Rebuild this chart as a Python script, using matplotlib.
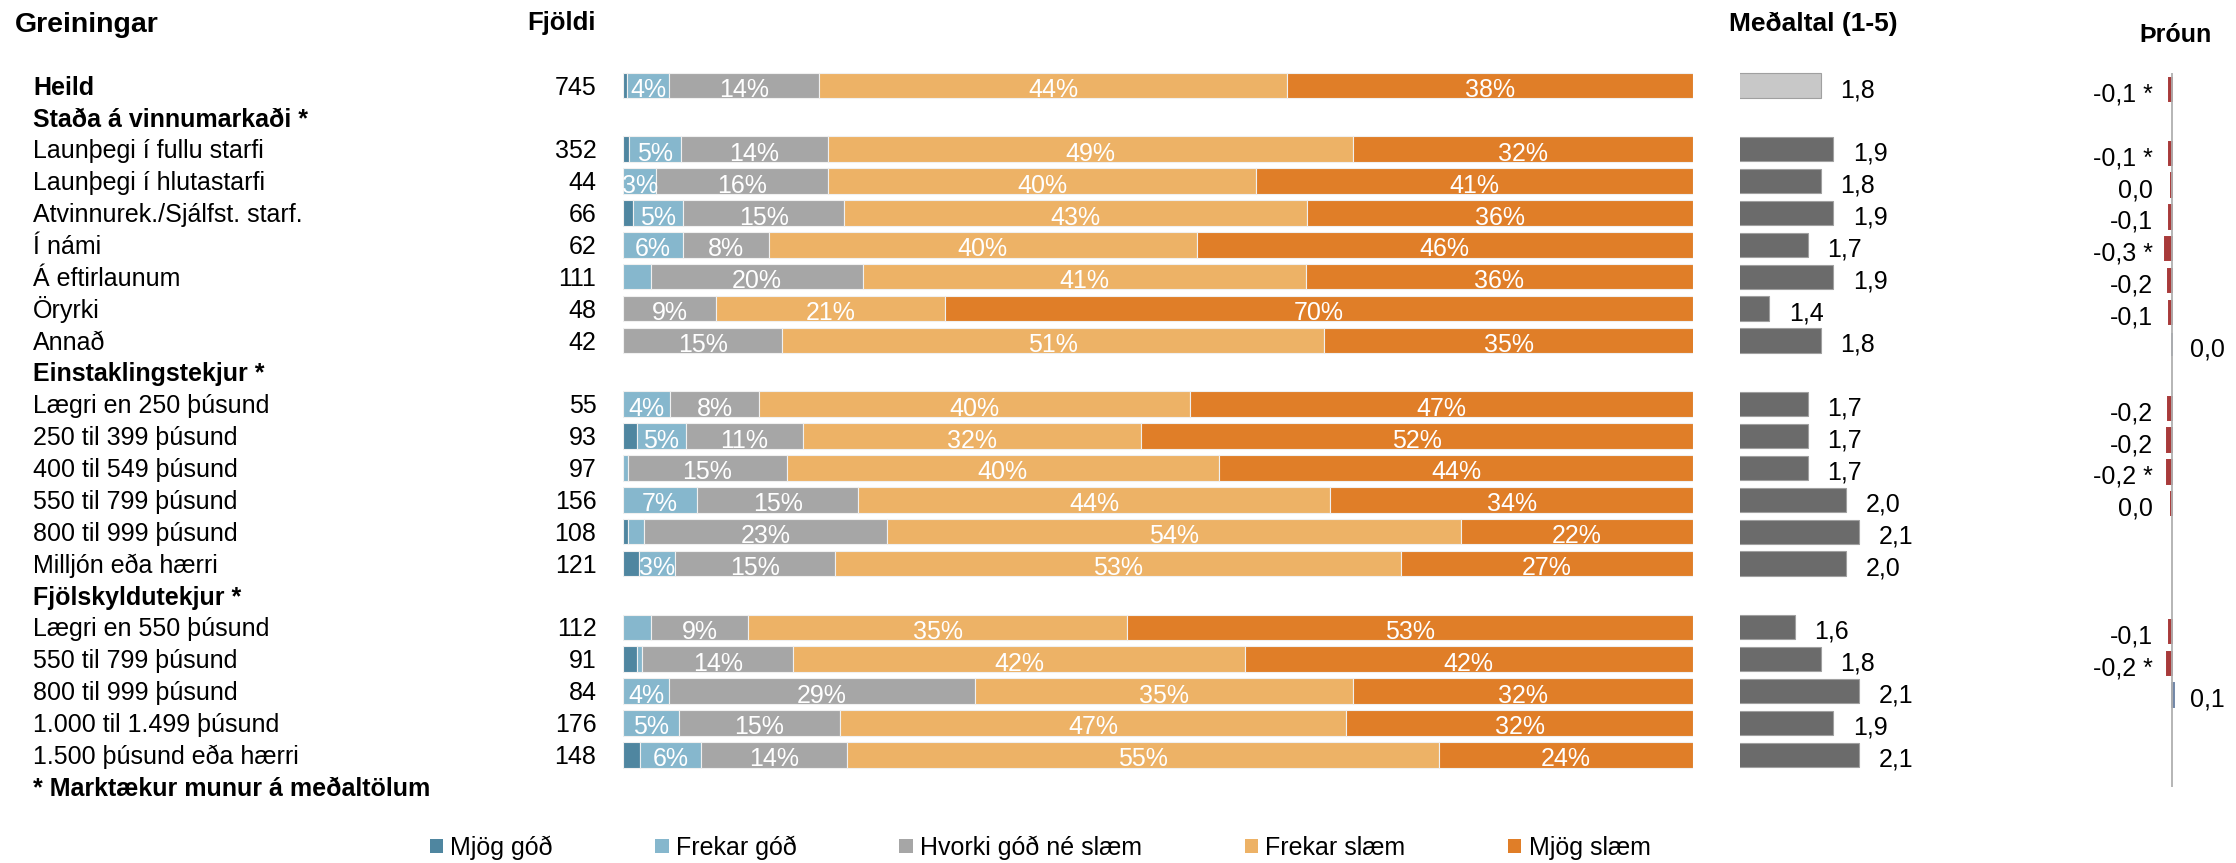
import numpy as np
import matplotlib.pyplot as plt
from matplotlib.patches import Patch

plt.rcParams['font.family'] = ['Liberation Sans', 'DejaVu Sans']

# --- data -------------------------------------------------------------
labels = ["Heild", "Staða á vinnumarkaði *", "Launþegi í fullu starfi",
          "Launþegi í hlutastarfi", "Atvinnurek./Sjálfst. starf.", "Í námi",
          "Á eftirlaunum", "Öryrki", "Annað", "Einstaklingstekjur *",
          "Lægri en 250 þúsund", "250 til 399 þúsund", "400 til 549 þúsund",
          "550 til 799 þúsund", "800 til 999 þúsund", "Milljón eða hærri",
          "Fjölskyldutekjur *", "Lægri en 550 þúsund", "550 til 799 þúsund",
          "800 til 999 þúsund", "1.000 til 1.499 þúsund", "1.500 þúsund eða hærri"]
bold_rows = ["Heild", "Staða á vinnumarkaði *", "Einstaklingstekjur *", "Fjölskyldutekjur *"]

fjoldi = [745, None, 352, 44, 66, 62, 111, 48, 42, None, 55, 93, 97, 156, 108, 121,
          None, 112, 91, 84, 176, 148]

nan = np.nan
mjog_god = [0.4, nan, 0.6, 0, 0.9, 0, 0, 0, 0, nan, 0, 1.3, 0, 0, 0.5, 1.5,
            nan, 0, 1.3, 0, 0, 1.6]
frekar_god = [3.9, nan, 4.8, 3.1, 4.7, 5.6, 2.6, 0, 0, nan, 4.4, 4.6, 0.5, 6.9, 1.5, 3.4,
              nan, 2.6, 0.5, 4.3, 5.2, 5.7]
hvorki = [14.0, nan, 13.8, 16.1, 15.1, 8.0, 19.8, 8.7, 14.9, nan, 8.3, 10.9, 14.8, 15.1, 22.7, 14.9,
          nan, 9.1, 14.1, 28.6, 15.1, 13.6]
frekar_slaem = [43.8, nan, 49.0, 40.0, 43.2, 40.0, 41.4, 21.4, 50.6, nan, 40.3, 31.6, 40.4, 44.1, 53.6, 52.9,
                nan, 35.4, 42.2, 35.3, 47.3, 55.4]
mjog_slaem = [37.9, nan, 31.8, 40.8, 36.1, 46.4, 36.2, 69.9, 34.6, nan, 47.0, 51.6, 44.3, 33.9, 21.7, 27.3,
              nan, 52.9, 41.9, 31.8, 32.4, 23.7]

series = ["Mjög góð", "Frekar góð", "Hvorki góð né slæm", "Frekar slæm", "Mjög slæm"]
colors = ["#4f86a0", "#86b7cd", "#a6a6a6", "#edb266", "#e07e28"]

medaltal = [1.8, nan, 1.9, 1.8, 1.9, 1.7, 1.9, 1.4, 1.8, nan, 1.7, 1.7, 1.7, 2.0, 2.1, 2.0,
            nan, 1.6, 1.8, 2.1, 1.9, 2.1]
throun = [-0.1, nan, -0.1, -0.04, -0.1, -0.3, -0.16, -0.1, 0.04, nan, -0.16, -0.2, -0.2, -0.04,
          nan, nan, nan, -0.1, -0.2, 0.1, nan, nan]
marktaekt = [True, False, True, False, False, True, False, False, False, False, False, False,
             True, False, False, False, False, False, True, False, False, False]

# --- layout -----------------------------------------------------------
W, H = 2236, 863
fig = plt.figure(figsize=(W / 100, H / 100), dpi=100)

row0, pitch = 85.5, 31.87
nrows = len(labels)
y = np.arange(nrows)
has = [f is not None for f in fjoldi]
yi = y[has]

def fy(px):
    return 1 - px / H

ax = fig.add_axes([623 / W, fy(row0 + pitch * 21.5), 1070 / W, pitch * 22 / H])
ax.set_xlim(0, 100)
ax.set_ylim(21.5, -0.5)
ax.axis('off')

data = np.array([mjog_god, frekar_god, hvorki, frekar_slaem, mjog_slaem], dtype=float)
left = np.zeros(nrows)
for k in range(5):
    vals = data[k]
    ax.barh(yi, vals[has], left=left[has], height=0.8, color=colors[k],
            edgecolor='#f0f0f0', linewidth=0.8)
    for i in yi:
        v = vals[i]
        if v >= 2.95:
            ax.annotate(f"{v:.0f}%", (left[i] + v / 2, i), xytext=(0, -8.3),
                        textcoords='offset points', ha='center', va='baseline',
                        color='white', fontsize=18)
    left = left + np.nan_to_num(vals)

# row labels and counts
for i in y:
    w = 'bold' if labels[i] in bold_rows else 'normal'
    ax.annotate(labels[i], (33 / W, i), xycoords=('figure fraction', 'data'),
                xytext=(0, -6.6), textcoords='offset points', ha='left', va='baseline',
                fontsize=18, fontweight=w, annotation_clip=False)
    if fjoldi[i] is not None:
        ax.annotate(str(fjoldi[i]), (596.5 / W, i), xycoords=('figure fraction', 'data'),
                    xytext=(0, -6.6), textcoords='offset points', ha='right', va='baseline',
                    fontsize=18, annotation_clip=False)
ax.annotate("* Marktækur munur á meðaltölum", (33 / W, 22), xycoords=('figure fraction', 'data'),
            xytext=(0, -6.6), textcoords='offset points', ha='left', va='baseline',
            fontsize=18, fontweight='bold', annotation_clip=False)

# mean panel
ax2 = fig.add_axes([1740 / W, fy(row0 + pitch * 21.5), 300 / W, pitch * 22 / H])
ax2.set_xlim(1.17, 1.17 + 300 / 128)
ax2.set_ylim(21.5, -0.5)
ax2.axis('off')
m = np.array(medaltal, dtype=float)
mcol = ['#c8c8c8' if i == 0 else '#6b6b6b' for i in yi]
ax2.barh(yi, m[has], height=0.76, color=mcol, edgecolor='#a0a0a0', linewidth=0.8)
for i in yi:
    ax2.annotate(f"{m[i]:.1f}".replace('.', ','), (m[i], i), xytext=(14, -8.3),
                 textcoords='offset points', ha='left', va='baseline', fontsize=18)

# trend panel
t_top, t_bot = 72.7, 786.5
trow0 = row0 + 4
ax3 = fig.add_axes([2040 / W, fy(t_bot), 196 / W, (t_bot - t_top) / H])
ax3.set_xlim(-131.5 / 23, 64.5 / 23)
ax3.set_ylim((t_bot - trow0) / pitch, (t_top - trow0) / pitch)
ax3.axis('off')
ax3.axvline(0, color='#b0b0b0', linewidth=1.3)
t = np.array(throun, dtype=float)
ok = ~np.isnan(t)
tcol = ['#a83a3a' if v < 0 else '#7388a8' for v in t[ok]]
ax3.barh(y[ok], t[ok], height=0.73, color=tcol, edgecolor=tcol, linewidth=1.4)
for i in y[ok]:
    v = t[i]
    s = ('-' if round(v, 1) < 0 else '') + f"{abs(v):.1f}".replace('.', ',')
    if marktaekt[i]:
        s += " *"
    if v < 0:
        ax3.annotate(s, (0, i), xytext=(-13.3, -8.6), textcoords='offset points',
                     ha='right', va='baseline', fontsize=18)
    else:
        ax3.annotate(s, (0, i), xytext=(13, -8.6), textcoords='offset points',
                     ha='left', va='baseline', fontsize=18)

# headers
fig.text(15 / W, fy(31.7), "Greiningar", fontsize=20.5, fontweight='bold', va='baseline')
fig.text(595.5 / W, fy(30), "Fjöldi", fontsize=18.5, fontweight='bold', va='baseline', ha='right')
fig.text(1729 / W, fy(30.7), "Meðaltal (1-5)", fontsize=19, fontweight='bold', va='baseline')
fig.text(2139 / W, fy(41.7), "Þróun", fontsize=18, fontweight='bold', va='baseline')

# legend
handles = [Patch(facecolor=c, edgecolor='none') for c in colors]
fig.legend(handles, series, loc='center', bbox_to_anchor=(1040 / W, fy(847.7)), ncol=5,
           frameon=False, fontsize=18, handlelength=0.53, handleheight=0.53,
           handletextpad=0.3, columnspacing=4.1, borderpad=0)

fig.savefig("out.png", dpi=100)
